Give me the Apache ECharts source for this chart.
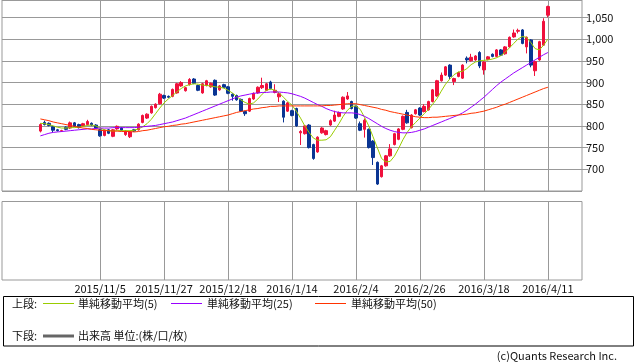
<!DOCTYPE html>
<html><head><meta charset="utf-8">
<script src="https://cdn.jsdelivr.net/npm/echarts@6/dist/echarts.min.js"></script>
<style>html,body{margin:0;padding:0;background:#fff}#c{width:638px;height:362px}</style>
</head><body><div id="c"></div>
<script>
const dates = [
'2015/10/15','2015/10/16','2015/10/19','2015/10/20','2015/10/21','2015/10/22','2015/10/23','2015/10/26','2015/10/27','2015/10/28','2015/10/29','2015/10/30',
'2015/11/2','2015/11/4','2015/11/5','2015/11/6','2015/11/9','2015/11/10','2015/11/11','2015/11/12','2015/11/13','2015/11/16','2015/11/17','2015/11/18','2015/11/19','2015/11/20','2015/11/24','2015/11/25','2015/11/26','2015/11/27','2015/11/30',
'2015/12/1','2015/12/2','2015/12/3','2015/12/4','2015/12/7','2015/12/8','2015/12/9','2015/12/10','2015/12/11','2015/12/14','2015/12/15','2015/12/16','2015/12/17','2015/12/18','2015/12/21','2015/12/22','2015/12/24','2015/12/25','2015/12/28','2015/12/29','2015/12/30',
'2016/1/4','2016/1/5','2016/1/6','2016/1/7','2016/1/8','2016/1/12','2016/1/13','2016/1/14','2016/1/15','2016/1/18','2016/1/19','2016/1/20','2016/1/21','2016/1/22','2016/1/25','2016/1/26','2016/1/27','2016/1/28','2016/1/29',
'2016/2/1','2016/2/2','2016/2/3','2016/2/4','2016/2/5','2016/2/8','2016/2/9','2016/2/10','2016/2/12','2016/2/15','2016/2/16','2016/2/17','2016/2/18','2016/2/19','2016/2/22','2016/2/23','2016/2/24','2016/2/25','2016/2/26','2016/2/29',
'2016/3/1','2016/3/2','2016/3/3','2016/3/4','2016/3/7','2016/3/8','2016/3/9','2016/3/10','2016/3/11','2016/3/14','2016/3/15','2016/3/16','2016/3/17','2016/3/18','2016/3/22','2016/3/23','2016/3/24','2016/3/25','2016/3/28','2016/3/29','2016/3/30','2016/3/31',
'2016/4/1','2016/4/4','2016/4/5','2016/4/6','2016/4/7','2016/4/8','2016/4/11'];

const labelDates = ['2015/11/5','2015/11/27','2015/12/18','2016/1/14','2016/2/4','2016/2/26','2016/3/18','2016/4/11'];

const opens = [788,808,806,798,791,788,797,795,807,803, 800,803,806,802,791,778,791,776,793,795, 780,775,791,791,808,818,830,842,851,870, 868,868,876,892,881,895,908,893,876,893, 890,905,883,895,890,873,870,861,833,834, 862,876,888,882,901,877,867,857,834,835, 840,784,782,802,757,740,784,780,802,811, 822,839,862,856,845,805,792,792,765,716, 683,708,731,757,769,792,831,796,828,841, 833,837,856,869,904,917,940,902,914,910, 956,950,952,969,929,953,965,960,975,966, 982,1005,1018,1021,982,998,927,952,986,1055];
const closes = [803,803,801,790,789,789,792,807,799,796, 805,810,802,795,777,790,783,791,799,790, 788,786,788,804,824,827,845,850,873,864, 866,884,897,900,888,907,898,882,897,904, 898,871,892,889,875,868,860,834,828,863, 875,889,893,897,886,882,874,820,853,824, 800,787,800,750,725,774,795,789,812,825, 831,866,869,840,818,790,813,750,727,666, 708,731,747,782,793,822,807,825,837,825, 845,856,883,904,917,936,914,909,923,940, 952,958,961,938,947,959,960,975,963,982, 1004,1014,1020,990,1004,940,948,994,1041,1075];
const lows = [785,801,799,785,787,786,790,793,797,794, 798,801,800,793,775,776,781,774,791,788, 777,772,786,789,806,816,828,840,849,862, 864,866,874,890,879,893,896,880,874,891, 888,869,881,887,873,858,858,832,823,832, 860,874,885,880,884,875,855,808,832,822, 798,756,780,748,722,738,782,778,800,809, 820,837,860,838,816,788,773,748,710,664, 681,706,729,755,767,790,805,794,826,823, 831,835,854,867,902,915,908,894,912,908, 944,948,950,933,918,951,958,958,961,964, 980,1003,1013,988,967,935,915,950,984,1050];
const highs = [806,812,808,800,793,791,799,810,809,805, 807,814,808,804,793,792,793,793,801,797, 790,788,793,806,826,829,847,852,876,872, 870,886,899,903,890,910,910,895,899,906, 900,907,894,897,892,875,872,863,835,865, 877,891,911,899,904,896,876,859,855,837, 842,790,802,804,759,776,797,791,815,835, 833,868,878,858,847,810,817,794,767,718, 710,733,758,784,795,824,837,827,839,843, 850,858,885,906,923,938,942,911,925,942, 960,966,963,972,949,961,967,977,977,984, 1006,1022,1024,1023,1006,1000,950,996,1048,1077];

const ma5 = [806,805,803,800,797,795,795,796,796,797, 799,801,802,800,795,791,789,788,789,789, 789,789,790,793,798,805,815,828,841,853, 862,870,878,886,892,895,897,896,894,893, 892,890,889,887,882,876,868,860,854,850, 853,862,873,882,885,882,876,866,856,848, 834,818,800,785,772,767,767,768,775,790, 805,822,836,845,846,838,820,800,775,750, 725,717,718,730,748,768,785,798,808,818, 828,838,850,863,880,896,908,918,924,926, 932,941,947,950,951,952,954,957,962,970, 980,990,1000,1006,1004,992,978,975,986,1000];
const ma25 = [777,780,783,785,786,787,788,789,790,791, 792,793,793,794,795,795,795,796,796,796, 796,796,796,797,798,799,800,801,803,805, 807,809,812,815,818,822,826,830,834,838, 842,846,850,854,858,862,866,869,871,873, 875,876,877,877,878,878,878,877,876,874, 871,868,864,859,854,849,845,840,836,833, 831,830,830,830,829,826,822,817,811,805, 799,794,790,787,785,784,784,785,787,790, 793,797,801,805,809,813,817,821,825,830, 836,843,850,858,866,875,884,893,901,908, 915,922,928,934,940,946,952,958,964,969];
const ma50 = [816,814,812,809,807,805,803,801,799,797, 795,794,792,791,790,789,789,788,788,787, 787,787,786,787,789,790,792,794,796,798, 799,801,802,804,805,807,809,811,813,815, 817,819,821,823,825,828,831,833,835,837, 839,840,842,843,845,845,846,846,846,846, 846,846,846,846,846,846,846,847,847,848, 849,850,851,851,851,849,847,845,843,841, 838,836,833,831,829,827,825,823,821,820, 819,819,820,820,821,822,823,824,825,826, 827,829,830,832,834,837,840,843,847,850, 854,858,862,866,870,874,878,882,886,889];

const padBefore = 9, padAfter = 8;
const categories = [];
for (let i = 0; i < padBefore; i++) categories.push('pre' + i);
dates.forEach(d => categories.push(d));
for (let i = 0; i < padAfter; i++) categories.push('post' + i);

const candleData = dates.map((d, i) => [d, opens[i], closes[i], lows[i], highs[i]]);
const lineData = arr => arr.map((v, i) => [dates[i], v]);
const showAt = (idx, val) => labelDates.indexOf(val) >= 0;

const FONT = '"Noto Sans CJK JP", "Noto Sans", sans-serif';
const GRID = '#999999';
const fmt = v => String(v).replace(/\B(?=(\d{3})+(?!\d))/g, ',');

const chart = echarts.init(document.getElementById('c'), null, {renderer: 'canvas'});
const txt = (text, x, y, align) => ({
  type: 'text', silent: true,
  style: {text, x, y, fill: '#111', font: '11px ' + FONT,
          textAlign: align || 'left', textVerticalAlign: 'middle', align: align || 'left', verticalAlign: 'middle'}
});
const seg = (x1, x2, y, color, w) => ({
  type: 'line', silent: true,
  shape: {x1, y1: y, x2, y2: y},
  style: {stroke: color, lineWidth: w}
});

chart.setOption({
  animation: false,
  backgroundColor: '#fff',
  textStyle: {fontFamily: FONT},
  grid: [
    {left: 2, top: 0, width: 580, height: 191, show: true, borderColor: GRID, borderWidth: 1, containLabel: false},
    {left: 2, top: 201.5, width: 580, height: 78.5, show: true, borderColor: GRID, borderWidth: 1, containLabel: false}
  ],
  xAxis: [
    {type: 'category', gridIndex: 0, data: categories, boundaryGap: false,
     axisLine: {show: false}, axisTick: {show: false}, axisLabel: {show: false},
     splitLine: {show: true, interval: showAt, lineStyle: {color: GRID, width: 1}}},
    {type: 'category', gridIndex: 1, data: categories, boundaryGap: false,
     axisLine: {show: false}, axisTick: {show: false},
     axisLabel: {show: true, interval: showAt, color: '#111', fontSize: 11, fontFamily: FONT, margin: 3},
     splitLine: {show: true, interval: showAt, lineStyle: {color: GRID, width: 1}}}
  ],
  yAxis: [
    {type: 'value', gridIndex: 0, position: 'right', min: 650, max: 1090, interval: 50, scale: true,
     axisLine: {show: false},
     axisTick: {show: true, length: 6, lineStyle: {color: GRID}},
     axisLabel: {show: true, margin: 4, color: '#111', fontSize: 11, fontFamily: FONT,
                 showMinLabel: false, showMaxLabel: false, formatter: fmt},
     splitLine: {show: true, lineStyle: {color: GRID, width: 1}}},
    {type: 'value', gridIndex: 1, min: 0, max: 1, show: false, splitLine: {show: false}}
  ],
  series: [
    {type: 'candlestick', name: 'price', xAxisIndex: 0, yAxisIndex: 0, data: candleData,
     encode: {x: 0, y: [1, 2, 3, 4]}, barWidth: 3, silent: true, z: 2,
     itemStyle: {color: '#f0103c', color0: '#0a3593', borderColor: '#f0103c', borderColor0: '#0a3593', borderWidth: 1}},
    {type: 'line', name: '単純移動平均(5)', data: lineData(ma5), symbol: 'none', silent: true, z: 3,
     lineStyle: {color: '#99cc00', width: 1}},
    {type: 'line', name: '単純移動平均(25)', data: lineData(ma25), symbol: 'none', silent: true, z: 3,
     lineStyle: {color: '#9900ff', width: 1}},
    {type: 'line', name: '単純移動平均(50)', data: lineData(ma50), symbol: 'none', silent: true, z: 3,
     lineStyle: {color: '#ff3300', width: 1}}
  ],
  graphic: [
    {type: 'rect', silent: true, shape: {x: 3.5, y: 296.5, width: 630, height: 49.5},
     style: {fill: 'none', stroke: '#000', lineWidth: 1}},
    txt('上段:', 12, 303.5),
    seg(43, 74, 303.5, '#99cc00', 1),
    txt('単純移動平均(5)', 78, 303.5),
    seg(171, 202, 303.5, '#9900ff', 1),
    txt('単純移動平均(25)', 207, 303.5),
    seg(315, 346, 303.5, '#ff3300', 1),
    txt('単純移動平均(50)', 351, 303.5),
    txt('下段:', 12, 336),
    seg(43, 74, 336, '#666666', 3),
    txt('出来高 単位:(株/口/枚)', 78, 336),
    txt('(c)Quants Research Inc.', 617, 356, 'right')
  ]
});
</script>
</body></html>
